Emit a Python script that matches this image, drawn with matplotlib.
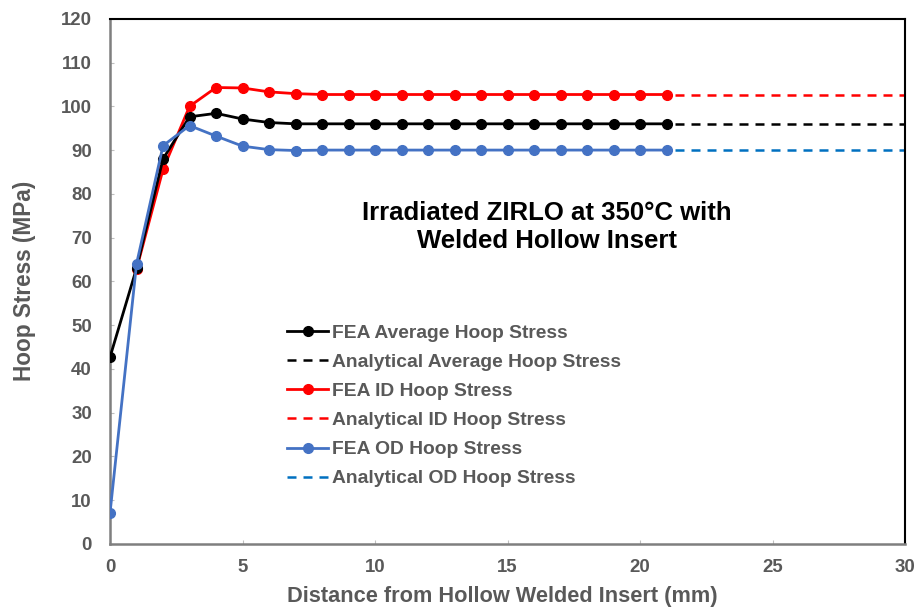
import matplotlib
matplotlib.use("Agg")
import matplotlib.pyplot as plt

plt.rcParams["font.family"] = ["Liberation Sans", "DejaVu Sans"]
plt.rcParams["font.weight"] = "bold"

GRAY = "#595959"

# FEA results along the distance from the insert (mm)
x_fea = list(range(0, 22))
avg_fea = [42.7, 63.0, 88.0, 97.6, 98.4, 97.1, 96.3, 96.0, 96.0, 96.0, 96.0,
           96.0, 96.0, 96.0, 96.0, 96.0, 96.0, 96.0, 96.0, 96.0, 96.0, 96.0]
x_id = list(range(1, 22))
id_fea = [62.8, 85.6, 100.0, 104.3, 104.2, 103.3, 102.9, 102.7, 102.7, 102.7,
          102.7, 102.7, 102.7, 102.7, 102.7, 102.7, 102.7, 102.7, 102.7, 102.7, 102.7]
od_fea = [7.1, 64.0, 91.0, 95.6, 93.2, 90.9, 90.1, 89.9, 90.0, 90.0, 90.0,
          90.0, 90.0, 90.0, 90.0, 90.0, 90.0, 90.0, 90.0, 90.0, 90.0, 90.0]

# analytical values (constant far field)
x_ana = [21.3, 30]
avg_ana = [96.0, 96.0]
id_ana = [102.7, 102.7]
od_ana = [90.0, 90.0]

fig = plt.figure(figsize=(9.17, 6.07), dpi=100)
ax = fig.add_axes([0.12, 0.104, 0.867, 0.865])

dash = (0, (3.6, 2.8))
ax.plot(x_fea, avg_fea, color="black", lw=2, marker="o", ms=7, label="FEA Average Hoop Stress", zorder=3)
ax.plot(x_ana, avg_ana, color="black", lw=1.8, ls=dash, label="Analytical Average Hoop Stress")
ax.plot(x_id, id_fea, color="#FF0000", lw=2, marker="o", ms=7, label="FEA ID Hoop Stress", zorder=2)
ax.plot(x_ana, id_ana, color="#FF0000", lw=1.8, ls=dash, label="Analytical ID Hoop Stress")
ax.plot(x_fea, od_fea, color="#4472C4", lw=2, marker="o", ms=7, label="FEA OD Hoop Stress", zorder=4)
ax.plot(x_ana, od_ana, color="#0070C0", lw=1.8, ls=dash, label="Analytical OD Hoop Stress")

ax.set_xlim(0, 30)
ax.set_ylim(0, 120)
ax.set_xticks(range(0, 31, 5))
ax.set_yticks(range(0, 121, 10))
ax.tick_params(direction="in", length=3, color="#BFBFBF", labelcolor=GRAY, labelsize=13.4)
ax.tick_params(axis="x", pad=11)
ax.tick_params(axis="y", pad=13)
for lab in ax.get_xticklabels() + ax.get_yticklabels():
    lab.set_fontweight("bold")

for side in ("left", "bottom"):
    ax.spines[side].set_color("#7F7F7F")
    ax.spines[side].set_linewidth(1.8)
for side in ("top", "right"):
    ax.spines[side].set_color("black")
    ax.spines[side].set_linewidth(1.5)

ax.set_xlabel("Distance from Hollow Welded Insert (mm)", fontsize=15.7, color=GRAY, fontweight="bold")
ax.xaxis.set_label_coords(0.494, -0.080)
ax.set_ylabel("Hoop Stress (MPa)", fontsize=16.3, color=GRAY, fontweight="bold", labelpad=18)

ax.text(16.5, 72.5, "Irradiated ZIRLO at 350°C with\nWelded Hollow Insert",
        ha="center", va="center", fontsize=18.5, fontweight="bold", color="black", linespacing=1.2)

leg = ax.legend(loc="upper left", bbox_to_anchor=(0.223, 0.418), frameon=False,
                fontsize=13.9, handlelength=2.1, handletextpad=0.2, labelspacing=0.6,
                borderpad=0, borderaxespad=0)
for t in leg.get_texts():
    t.set_color(GRAY)
    t.set_fontweight("bold")

fig.savefig("out.png", dpi=100)
